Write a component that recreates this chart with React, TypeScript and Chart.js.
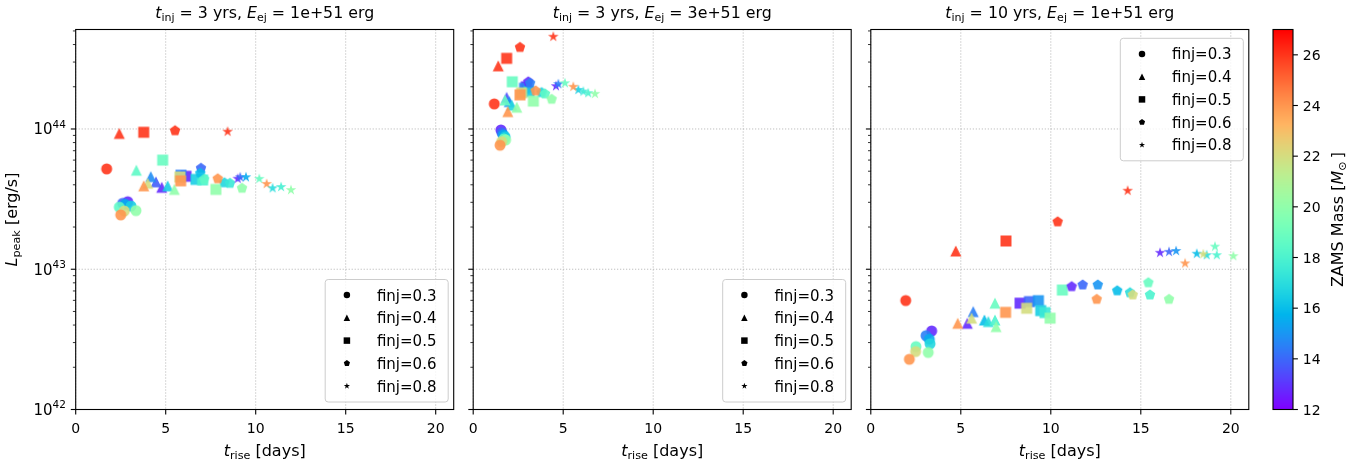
import React, { useEffect, useRef } from 'react';
import { Chart, registerables } from 'chart.js';

Chart.register(...registerables);

const FONT = '"DejaVu Sans", "Liberation Sans", sans-serif';
const W = 1372;
const H = 465;

// ---------- axis / tick definitions ----------
const X_MIN = 0;
const X_MAX = 21;
const Y_MIN = 1e42;
const Y_MAX = 5.12e44;
const X_TICKS = [0, 5, 10, 15, 20];
const Y_MAJOR_EXP = [42, 43, 44];
const CB_MIN = 12;
const CB_MAX = 27;
const CB_TICKS = [12, 14, 16, 18, 20, 22, 24, 26];
const FINJ_LABELS = ['finj=0.3', 'finj=0.4', 'finj=0.5', 'finj=0.6', 'finj=0.8'];
const FINJ_SHAPES = ['circle', 'triangle', 'square', 'pentagon', 'star'];
const TITLE_TINJ = ['3', '3', '10'];
const TITLE_EEJ = ['1e+51', '3e+51', '1e+51'];
const LEGEND_LOC = ['lower right', 'lower right', 'upper right'];

// ---------- Panel 1: t_inj = 3 yrs, E_ej = 1e51 ----------
const P1_F03_T = [2.89, 2.61, 2.75, 3.07, 2.42, 3.35, 2.7, 2.5, 1.72];
const P1_F03_L = [3.03e43, 2.95e43, 2.9e43, 2.82e43, 2.77e43, 2.62e43, 2.6e43, 2.44e43, 5.19e43];
const P1_F03_M = [12.8, 14, 15.5, 16.5, 18.5, 20, 22, 24, 26];

const P1_F04_T = [4.78, 4.46, 4.17, 5.11, 3.37, 5.48, 4.0, 3.78, 2.42];
const P1_F04_L = [3.84e43, 4.2e43, 4.57e43, 3.93e43, 5.08e43, 3.71e43, 4.1e43, 3.93e43, 9.3e43];
const P1_F04_M = [12.8, 13.8, 14.8, 16.5, 18.5, 20, 22, 24, 26];

const P1_F05_T = [6.13, 5.85, 6.68, 7.05, 4.83, 7.79, 5.79, 5.83, 3.78];
const P1_F05_L = [4.6e43, 4.68e43, 4.37e43, 4.33e43, 6.0e43, 3.71e43, 4.55e43, 4.27e43, 9.47e43];
const P1_F05_M = [12.8, 14.5, 16.5, 18, 18.8, 20, 22, 24, 26];

const P1_F06_T = [6.96, 6.92, 8.26, 8.57, 7.14, 9.24, 7.89, 5.52];
const P1_F06_L = [5.25e43, 4.83e43, 4.14e43, 4.1e43, 4.38e43, 3.78e43, 4.42e43, 9.73e43];
const P1_F06_M = [14, 16, 16.8, 17.5, 18.5, 20, 24, 26];

const P1_F08_T = [9.0, 9.14, 9.46, 10.2, 10.61, 10.94, 11.41, 11.96, 8.44];
const P1_F08_L = [4.42e43, 4.53e43, 4.53e43, 4.41e43, 4.06e43, 3.78e43, 3.86e43, 3.67e43, 9.57e43];
const P1_F08_M = [12.8, 14, 15.5, 18.8, 24, 17, 17.8, 20, 26];

// ---------- Panel 2: t_inj = 3 yrs, E_ej = 3e51 ----------
const P2_F03_T = [1.54, 1.6, 1.67, 1.77, 1.71, 1.8, 1.58, 1.49, 1.17];
const P2_F03_L = [9.84e43, 9.4e43, 9.06e43, 8.8e43, 8.5e43, 8.35e43, 8.13e43, 7.66e43, 1.51e44];
const P2_F03_M = [12.8, 14, 15.5, 16.5, 18.5, 20, 22, 24, 26];

const P2_F04_T = [1.86, 2.0, 2.14, 1.77, 2.42, 1.92, 1.39];
const P2_F04_L = [1.68e44, 1.57e44, 1.48e44, 1.61e44, 1.43e44, 1.33e44, 2.82e44];
const P2_F04_M = [13.5, 15, 16.8, 18.8, 20, 24, 26];

const P2_F05_T = [2.95, 2.85, 3.1, 2.17, 3.34, 2.69, 2.6, 1.86];
const P2_F05_L = [2.0e44, 1.95e44, 1.85e44, 2.17e44, 1.58e44, 1.81e44, 1.75e44, 3.19e44];
const P2_F05_M = [12.8, 14.5, 16.5, 18.8, 20, 22, 24, 26];

const P2_F06_T = [3.06, 3.16, 3.8, 3.99, 4.36, 3.47, 2.6];
const P2_F06_L = [2.17e44, 2.12e44, 1.82e44, 1.78e44, 1.63e44, 1.87e44, 3.82e44];
const P2_F06_M = [12.8, 14.5, 16.8, 18.5, 20, 24, 26];

const P2_F08_T = [4.6, 4.73, 5.1, 5.84, 6.12, 6.39, 6.77, 5.56, 4.45];
const P2_F08_L = [2.02e44, 2.09e44, 2.12e44, 1.9e44, 1.85e44, 1.8e44, 1.78e44, 2.0e44, 4.55e44];
const P2_F08_M = [12.8, 14.5, 18.8, 16.5, 17.5, 18, 20, 24, 26];

// ---------- Panel 3: t_inj = 10 yrs, E_ej = 1e51 ----------
const P3_F03_T = [3.38, 3.07, 3.25, 3.29, 2.51, 3.19, 2.49, 2.14, 1.94];
const P3_F03_L = [3.63e42, 3.36e42, 3.17e42, 2.94e42, 2.81e42, 2.55e42, 2.59e42, 2.28e42, 5.98e42];
const P3_F03_M = [12.8, 14.5, 15.5, 16.8, 18.8, 20, 22, 24, 26];

const P3_F04_T = [5.36, 5.69, 6.31, 6.53, 6.9, 6.9, 6.96, 5.6, 4.83, 4.72];
const P3_F04_L = [4.12e42, 4.99e42, 4.35e42, 4.24e42, 5.73e42, 4.35e42, 3.9e42, 4.48e42, 4.12e42, 1.35e43];
const P3_F04_M = [12.8, 14.5, 16, 17, 18.8, 18, 20, 22, 24, 26];

const P3_F05_T = [8.29, 8.81, 9.31, 9.44, 9.68, 10.64, 9.96, 8.66, 7.49, 7.51];
const P3_F05_L = [5.73e42, 5.88e42, 5.97e42, 5.07e42, 4.91e42, 7.11e42, 4.48e42, 5.27e42, 4.93e42, 1.59e43];
const P3_F05_M = [12.8, 14, 15, 16.5, 17.5, 18.8, 20, 22, 24, 26];

const P3_F06_T = [11.16, 11.77, 12.61, 13.69, 14.4, 15.42, 15.51, 16.57, 14.55, 12.55, 10.38];
const P3_F06_L = [7.52e42, 7.73e42, 7.73e42, 7.03e42, 6.81e42, 8.02e42, 6.56e42, 6.11e42, 6.56e42, 6.11e42, 2.18e43];
const P3_F06_M = [12.8, 14, 15, 16, 17, 18.8, 18, 20, 22, 24, 26];

const P3_F08_T = [16.07, 16.57, 16.96, 18.11, 18.66, 19.12, 19.22, 20.14, 18.47, 17.46, 14.27];
const P3_F08_L = [1.31e43, 1.33e43, 1.35e43, 1.29e43, 1.26e43, 1.45e43, 1.26e43, 1.24e43, 1.28e43, 1.1e43, 3.63e43];
const P3_F08_M = [12.8, 14, 15, 16, 17, 18.8, 18, 20, 22, 24, 26];

const PANEL_GROUPS = [
  [[P1_F03_T, P1_F03_L, P1_F03_M], [P1_F04_T, P1_F04_L, P1_F04_M], [P1_F05_T, P1_F05_L, P1_F05_M], [P1_F06_T, P1_F06_L, P1_F06_M], [P1_F08_T, P1_F08_L, P1_F08_M]],
  [[P2_F03_T, P2_F03_L, P2_F03_M], [P2_F04_T, P2_F04_L, P2_F04_M], [P2_F05_T, P2_F05_L, P2_F05_M], [P2_F06_T, P2_F06_L, P2_F06_M], [P2_F08_T, P2_F08_L, P2_F08_M]],
  [[P3_F03_T, P3_F03_L, P3_F03_M], [P3_F04_T, P3_F04_L, P3_F04_M], [P3_F05_T, P3_F05_L, P3_F05_M], [P3_F06_T, P3_F06_L, P3_F06_M], [P3_F08_T, P3_F08_L, P3_F08_M]],
];

// ---------- layout ----------
const AREA_TOP = 29.5;
const AREA_BOTTOM = 409.5;
const PANEL_LEFTS = [75.7, 473.2, 870.8];
const PANEL_WIDTH = 378;
const CB_LEFT = 1273;
const CB_RIGHT = 1293;
const MARKER_SIZE = 11;
const LEGEND_MARKER = 6.5;
const MARKER_ALPHA = 0.9;
const TICK_FONT = 14;
const YTICK_FONT = 15;
const LABEL_FONT = 16;
const TITLE_FONT = 15.8;
const LEGEND_FONT = 15;

function clamp01(v: number) {
  return Math.max(0, Math.min(1, v));
}

function rainbow(m: number, alpha = 1) {
  const x = clamp01((m - CB_MIN) / (CB_MAX - CB_MIN));
  const r = clamp01(Math.abs(2 * x - 0.5));
  const g = clamp01(Math.sin(Math.PI * x));
  const b = clamp01(Math.cos((Math.PI * x) / 2));
  return `rgba(${Math.round(r * 255)},${Math.round(g * 255)},${Math.round(b * 255)},${alpha})`;
}

function shapePath(ctx: CanvasRenderingContext2D, shape: string, cx: number, cy: number, size: number) {
  const h = size / 2;
  ctx.beginPath();
  if (shape === 'circle') {
    ctx.arc(cx, cy, h, 0, Math.PI * 2);
  } else if (shape === 'triangle') {
    ctx.moveTo(cx, cy - h);
    ctx.lineTo(cx - h, cy + h);
    ctx.lineTo(cx + h, cy + h);
    ctx.closePath();
  } else if (shape === 'square') {
    ctx.rect(cx - h, cy - h, size, size);
  } else if (shape === 'pentagon') {
    for (let i = 0; i < 5; i++) {
      const a = -Math.PI / 2 + (i * 2 * Math.PI) / 5;
      const px = cx + h * Math.cos(a);
      const py = cy + h * Math.sin(a);
      if (i === 0) ctx.moveTo(px, py);
      else ctx.lineTo(px, py);
    }
    ctx.closePath();
  } else if (shape === 'star') {
    const inner = h * 0.381966;
    for (let i = 0; i < 10; i++) {
      const a = -Math.PI / 2 + (i * Math.PI) / 5;
      const rr = i % 2 === 0 ? h : inner;
      const px = cx + rr * Math.cos(a);
      const py = cy + rr * Math.sin(a);
      if (i === 0) ctx.moveTo(px, py);
      else ctx.lineTo(px, py);
    }
    ctx.closePath();
  }
}

const markerCache = new Map<string, HTMLCanvasElement>();
function getMarker(shape: string, mass: number) {
  const key = shape + '|' + mass;
  const hit = markerCache.get(key);
  if (hit) return hit;
  const c = document.createElement('canvas');
  c.width = 16;
  c.height = 16;
  const ctx = c.getContext('2d')!;
  shapePath(ctx, shape, 8, 8, MARKER_SIZE);
  ctx.fillStyle = rainbow(mass, MARKER_ALPHA);
  ctx.fill();
  markerCache.set(key, c);
  return c;
}

type Part = { t: string; it?: boolean; sub?: boolean; sup?: boolean };

function partFont(p: Part, size: number) {
  const s = p.sub || p.sup ? size * 0.7 : size;
  return `${p.it ? 'italic ' : ''}${s}px ${FONT}`;
}

function drawRich(ctx: CanvasRenderingContext2D, parts: Part[], x: number, y: number, size: number, align: string) {
  ctx.save();
  ctx.textBaseline = 'alphabetic';
  ctx.textAlign = 'left';
  ctx.fillStyle = '#000';
  const widths = parts.map((p) => {
    ctx.font = partFont(p, size);
    return ctx.measureText(p.t).width;
  });
  const total = widths.reduce((a, b) => a + b, 0);
  let cx = align === 'center' ? x - total / 2 : align === 'right' ? x - total : x;
  parts.forEach((p, i) => {
    ctx.font = partFont(p, size);
    const dy = p.sub ? size * 0.2 : p.sup ? -size * 0.45 : 0;
    ctx.fillText(p.t, cx, y + dy);
    cx += widths[i];
  });
  ctx.restore();
}

function makeDecor(panel: number) {
  return {
    id: 'decor' + panel,
    beforeDatasetsDraw(chart: any) {
      const ctx: CanvasRenderingContext2D = chart.ctx;
      const { left, right, top, bottom } = chart.chartArea;
      const xs = chart.scales.x;
      const ys = chart.scales.y;
      ctx.save();
      ctx.strokeStyle = '#b0b0b0';
      ctx.lineWidth = 1;
      ctx.setLineDash([1, 2]);
      X_TICKS.forEach((v) => {
        const px = xs.getPixelForValue(v);
        ctx.beginPath();
        ctx.moveTo(px, top);
        ctx.lineTo(px, bottom);
        ctx.stroke();
      });
      Y_MAJOR_EXP.forEach((e) => {
        const py = ys.getPixelForValue(Math.pow(10, e));
        ctx.beginPath();
        ctx.moveTo(left, py);
        ctx.lineTo(right, py);
        ctx.stroke();
      });
      ctx.restore();
    },
    afterDatasetsDraw(chart: any) {
      const ctx: CanvasRenderingContext2D = chart.ctx;
      const { left, right, top, bottom } = chart.chartArea;
      const xs = chart.scales.x;
      const ys = chart.scales.y;
      ctx.save();
      // frame
      ctx.strokeStyle = '#000';
      ctx.lineWidth = 1.1;
      ctx.strokeRect(left, top, right - left, bottom - top);
      // x ticks
      X_TICKS.forEach((v) => {
        const px = xs.getPixelForValue(v);
        ctx.lineWidth = 1.1;
        ctx.beginPath();
        ctx.moveTo(px, bottom);
        ctx.lineTo(px, bottom + 4.9);
        ctx.stroke();
        ctx.font = `${TICK_FONT}px ${FONT}`;
        ctx.fillStyle = '#000';
        ctx.textAlign = 'center';
        ctx.textBaseline = 'alphabetic';
        ctx.fillText(String(v), px, bottom + 23.5);
      });
      // y ticks
      Y_MAJOR_EXP.forEach((e) => {
        const py = ys.getPixelForValue(Math.pow(10, e));
        ctx.lineWidth = 1.1;
        ctx.beginPath();
        ctx.moveTo(left, py);
        ctx.lineTo(left - 4.9, py);
        ctx.stroke();
        if (panel === 0) {
          drawRich(ctx, [{ t: '10' }, { t: String(e), sup: true }], left - 9.8, py + 5.5, YTICK_FONT, 'right');
        }
        for (let k = 2; k <= 9; k++) {
          const v = k * Math.pow(10, e);
          if (v > Y_MAX) break;
          const pm = ys.getPixelForValue(v);
          ctx.lineWidth = 0.8;
          ctx.beginPath();
          ctx.moveTo(left, pm);
          ctx.lineTo(left - 2.8, pm);
          ctx.stroke();
        }
      });
      const cxp = (left + right) / 2;
      // title
      drawRich(
        ctx,
        [
          { t: 't', it: true },
          { t: 'inj', sub: true },
          { t: ` = ${TITLE_TINJ[panel]} yrs, ` },
          { t: 'E', it: true },
          { t: 'ej', sub: true },
          { t: ` = ${TITLE_EEJ[panel]} erg` },
        ],
        cxp,
        17.5,
        TITLE_FONT,
        'center'
      );
      // x label
      drawRich(ctx, [{ t: 't', it: true }, { t: 'rise', sub: true }, { t: ' [days]' }], cxp, 455.5, LABEL_FONT, 'center');
      // y label
      if (panel === 0) {
        ctx.save();
        ctx.translate(17, (top + bottom) / 2);
        ctx.rotate(-Math.PI / 2);
        drawRich(ctx, [{ t: 'L', it: true }, { t: 'peak', sub: true }, { t: ' [erg/s]' }], 0, 0, LABEL_FONT, 'center');
        ctx.restore();
      }
      // legend
      const bw = 123;
      const bh = 122.5;
      const bx = right - 5.5 - bw;
      const by = LEGEND_LOC[panel] === 'upper right' ? top + 8.8 : bottom - 7.5 - bh;
      ctx.beginPath();
      const rr = 3;
      ctx.moveTo(bx + rr, by);
      ctx.lineTo(bx + bw - rr, by);
      ctx.quadraticCurveTo(bx + bw, by, bx + bw, by + rr);
      ctx.lineTo(bx + bw, by + bh - rr);
      ctx.quadraticCurveTo(bx + bw, by + bh, bx + bw - rr, by + bh);
      ctx.lineTo(bx + rr, by + bh);
      ctx.quadraticCurveTo(bx, by + bh, bx, by + bh - rr);
      ctx.lineTo(bx, by + rr);
      ctx.quadraticCurveTo(bx, by, bx + rr, by);
      ctx.closePath();
      ctx.fillStyle = 'rgba(255,255,255,0.8)';
      ctx.fill();
      ctx.strokeStyle = '#cccccc';
      ctx.lineWidth = 1;
      ctx.stroke();
      FINJ_LABELS.forEach((lab, i) => {
        const cy = by + 15.6 + i * 22.75;
        shapePath(ctx, FINJ_SHAPES[i], bx + 21.7, cy, LEGEND_MARKER);
        ctx.fillStyle = '#000';
        ctx.fill();
        ctx.font = `${LEGEND_FONT}px ${FONT}`;
        ctx.textAlign = 'left';
        ctx.textBaseline = 'alphabetic';
        ctx.fillText(lab, bx + 51.7, cy + 5.4);
      });
      ctx.restore();
    },
  };
}

function makePanel(canvas: HTMLCanvasElement, panel: number) {
  const groups = PANEL_GROUPS[panel];
  const datasets = groups.map((g, gi) => {
    const [T, L, M] = g;
    return {
      label: FINJ_LABELS[gi],
      data: T.map((t, i) => ({ x: t, y: L[i] })),
      pointStyle: (c: any) => getMarker(FINJ_SHAPES[gi], M[c.dataIndex ?? 0]),
      pointRadius: 6,
      pointHoverRadius: 6,
      showLine: false,
      order: 10 - gi,
    };
  });
  const left = PANEL_LEFTS[panel];
  const right = left + PANEL_WIDTH;
  return new Chart(canvas, {
    type: 'scatter',
    data: { datasets } as any,
    options: {
      animation: false,
      responsive: false,
      devicePixelRatio: 1,
      events: [],
      layout: { padding: { left, right: W - right, top: AREA_TOP, bottom: H - AREA_BOTTOM } },
      scales: {
        x: { type: 'linear', min: X_MIN, max: X_MAX, display: false },
        y: { type: 'logarithmic', min: Y_MIN, max: Y_MAX, display: false },
      },
      plugins: { legend: { display: false }, tooltip: { enabled: false }, title: { display: false } },
    } as any,
    plugins: [makeDecor(panel)],
  });
}

function makeColorbar(canvas: HTMLCanvasElement) {
  const plugin = {
    id: 'colorbar',
    afterDatasetsDraw(chart: any) {
      const ctx: CanvasRenderingContext2D = chart.ctx;
      const { left, right, top, bottom } = chart.chartArea;
      const ys = chart.scales.y;
      ctx.save();
      for (let py = Math.floor(top); py < bottom; py++) {
        const v = ys.getValueForPixel(py + 0.5);
        ctx.fillStyle = rainbow(v);
        ctx.fillRect(left, py, right - left, 1);
      }
      ctx.strokeStyle = '#000';
      ctx.lineWidth = 1.1;
      ctx.strokeRect(left, top, right - left, bottom - top);
      CB_TICKS.forEach((v) => {
        const py = ys.getPixelForValue(v);
        ctx.beginPath();
        ctx.moveTo(right, py);
        ctx.lineTo(right + 4.9, py);
        ctx.stroke();
        ctx.font = `${TICK_FONT}px ${FONT}`;
        ctx.fillStyle = '#000';
        ctx.textAlign = 'left';
        ctx.textBaseline = 'alphabetic';
        ctx.fillText(String(v), right + 9.8, py + 5.1);
      });
      ctx.translate(1342.5, (top + bottom) / 2);
      ctx.rotate(-Math.PI / 2);
      drawRich(ctx, [{ t: 'ZAMS Mass [' }, { t: 'M', it: true }, { t: '\u2299', sub: true }, { t: '\u2009]' }], 0, 0, LABEL_FONT, 'center');
      ctx.restore();
    },
  };
  return new Chart(canvas, {
    type: 'scatter',
    data: { datasets: [] },
    options: {
      animation: false,
      responsive: false,
      devicePixelRatio: 1,
      events: [],
      layout: { padding: { left: CB_LEFT, right: W - CB_RIGHT, top: AREA_TOP, bottom: H - AREA_BOTTOM } },
      scales: {
        x: { type: 'linear', min: 0, max: 1, display: false },
        y: { type: 'linear', min: CB_MIN, max: CB_MAX, display: false },
      },
      plugins: { legend: { display: false }, tooltip: { enabled: false } },
    } as any,
    plugins: [plugin],
  });
}

export default function App() {
  const r0 = useRef<HTMLCanvasElement>(null);
  const r1 = useRef<HTMLCanvasElement>(null);
  const r2 = useRef<HTMLCanvasElement>(null);
  const r3 = useRef<HTMLCanvasElement>(null);

  useEffect(() => {
    const charts = [
      makePanel(r0.current!, 0),
      makePanel(r1.current!, 1),
      makePanel(r2.current!, 2),
      makeColorbar(r3.current!),
    ];
    return () => charts.forEach((c) => c.destroy());
  }, []);

  const refs = [r0, r1, r2, r3];
  return (
    <div style={{ position: 'fixed', left: 0, top: 0, width: W, height: H, background: '#fff', overflow: 'hidden' }}>
      {refs.map((r, i) => (
        <canvas
          key={i}
          ref={r}
          width={W}
          height={H}
          style={{ position: 'absolute', left: 0, top: 0, width: W, height: H }}
        />
      ))}
    </div>
  );
}
